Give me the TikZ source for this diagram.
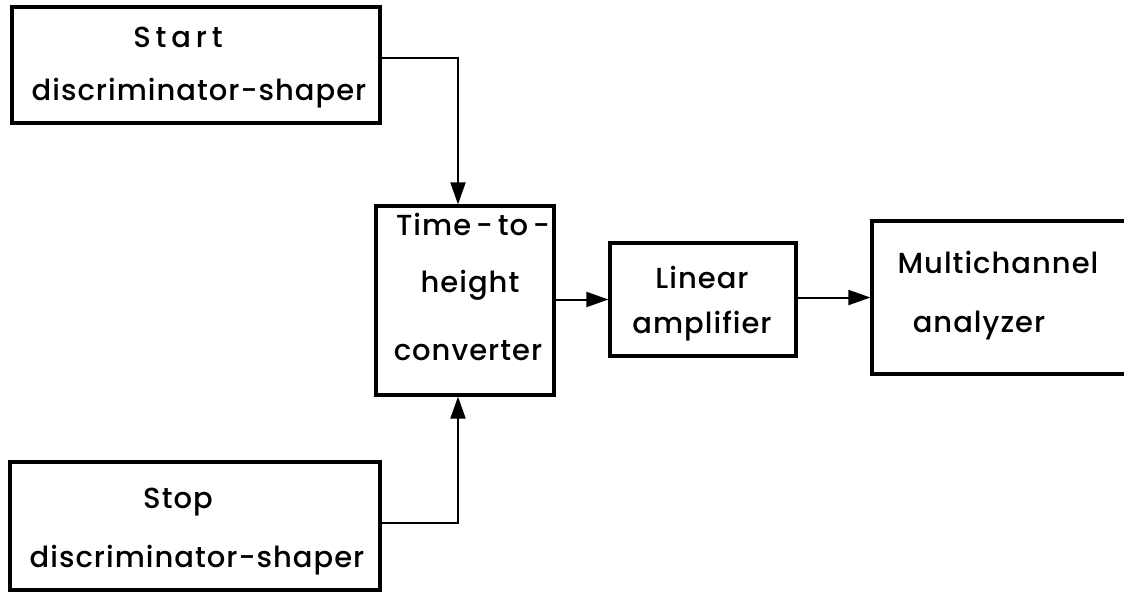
\documentclass[tikz,border=0pt]{standalone}
\usepackage{fontspec}
\setmainfont{Poppins}[UprightFont={* Medium}, LetterSpace=3.5]
\usetikzlibrary{arrows.meta}
\begin{document}
\begin{tikzpicture}[x=1pt,y=-1pt,
  blk/.style={draw, line width=3.2pt, inner sep=0pt},
  txt/.style={anchor=base, inner sep=0pt, font=\fontsize{29}{34}\selectfont},
  arr/.style={line width=2pt, -{Triangle[length=22pt,width=15pt]}}]
  \clip (0,0) rectangle (1124,592);
  \fill[white] (0,0) rectangle (1124,592);

  % blocks
  \node[blk, minimum width=368pt, minimum height=116pt] (start) at (196,65) {};
  \node[blk, minimum width=370pt, minimum height=128pt] (stop) at (195,526) {};
  \node[blk, minimum width=178pt, minimum height=189pt] (time) at (465,300.5) {};
  \node[blk, minimum width=186pt, minimum height=113pt] (lin) at (703,299.5) {};
  \node[blk, minimum width=280pt, minimum height=153pt] (mca) at (1012,297.5) {};

  % labels
  \node[txt] (startA) at (178,47) {S\,t\,a\,r\,t};
  \node[txt] (startB) at (199,100) {discriminator-shaper};
  \node[txt] (stopA) at (178,508) {Stop};
  \node[txt] (stopB) at (197,567) {discriminator-shaper};
  \node[txt] (timeA) at (473,235) {Time\,-\,to\,-};
  \node[txt] (timeB) at (470,292) {height};
  \node[txt] (timeC) at (468,360) {converter};
  \node[txt] (linA) at (702,288) {Linear};
  \node[txt] (linB) at (702,333) {amplifier};
  \node[txt] (mcaA) at (998,273) {Multichannel};
  \node[txt] (mcaB) at (979,332) {analyzer};

  % signal paths
  \draw[arr] ([yshift=7pt]start.east) -| ([xshift=-7pt]time.north);
  \draw[arr] ([yshift=3pt]stop.east) -| ([xshift=-7pt]time.south);
  \draw[arr] (time.east |- lin.west) -- (lin.west);
  \draw[arr] (lin.east |- mca.west) -- (mca.west);
\end{tikzpicture}
\end{document}
